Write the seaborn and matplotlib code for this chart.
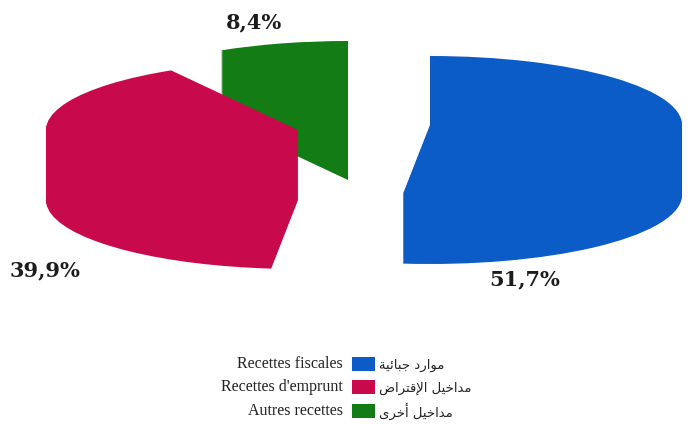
import matplotlib
matplotlib.use("Agg")
import matplotlib.pyplot as plt
from matplotlib.patches import Rectangle
import seaborn as sns

# --- data -------------------------------------------------------------
shares = [51.7, 39.9, 8.4]
share_labels = ["51,7%", "39,9%", "8,4%"]
labels_fr = ["Recettes fiscales", "Recettes d'emprunt", "Autres recettes"]
labels_ar = ["موارد جبائية", "مداخيل الإقتراض", "مداخيل أخرى"]
colors = ["#0b5cc6", "#c80a4c", "#137c14"]

sns.set_theme(style="white")
plt.rcParams["font.family"] = ["DejaVu Sans"]

# --- minimal Arabic shaping (presentation forms, right-to-left order) ---
FORMS = {
    "\u0627": ("\uFE8D", "\uFE8E", None, None),
    "\u0623": ("\uFE83", "\uFE84", None, None),
    "\u0625": ("\uFE87", "\uFE88", None, None),
    "\u0628": ("\uFE8F", "\uFE90", "\uFE91", "\uFE92"),
    "\u0629": ("\uFE93", "\uFE94", None, None),
    "\u062A": ("\uFE95", "\uFE96", "\uFE97", "\uFE98"),
    "\u062C": ("\uFE9D", "\uFE9E", "\uFE9F", "\uFEA0"),
    "\u062E": ("\uFEA5", "\uFEA6", "\uFEA7", "\uFEA8"),
    "\u062F": ("\uFEA9", "\uFEAA", None, None),
    "\u0631": ("\uFEAD", "\uFEAE", None, None),
    "\u0636": ("\uFEBD", "\uFEBE", "\uFEBF", "\uFEC0"),
    "\u0642": ("\uFED5", "\uFED6", "\uFED7", "\uFED8"),
    "\u0644": ("\uFEDD", "\uFEDE", "\uFEDF", "\uFEE0"),
    "\u0645": ("\uFEE1", "\uFEE2", "\uFEE3", "\uFEE4"),
    "\u0648": ("\uFEED", "\uFEEE", None, None),
    "\u0649": ("\uFEEF", "\uFEF0", None, None),
    "\u064A": ("\uFEF1", "\uFEF2", "\uFEF3", "\uFEF4"),
    "\u0626": ("\uFE89", "\uFE8A", "\uFE8B", "\uFE8C"),
}
LAM_ALEF = {
    "\u0627": ("\uFEFB", "\uFEFC"),
    "\u0623": ("\uFEF7", "\uFEF8"),
    "\u0625": ("\uFEF9", "\uFEFA"),
    "\u0622": ("\uFEF5", "\uFEF6"),
}


def _dual(ch):
    return ch in FORMS and FORMS[ch][2] is not None


def shape_arabic(s):
    out = []
    i, n = 0, len(s)
    while i < n:
        ch = s[i]
        if ch not in FORMS:
            out.append(ch)
            i += 1
            continue
        join_prev = i > 0 and _dual(s[i - 1])
        if ch == "\u0644" and i + 1 < n and s[i + 1] in LAM_ALEF:
            out.append(LAM_ALEF[s[i + 1]][1 if join_prev else 0])
            i += 2
            continue
        join_next = _dual(ch) and i + 1 < n and s[i + 1] in FORMS
        iso, fin, ini, med = FORMS[ch]
        if join_prev and join_next:
            out.append(med)
        elif join_prev:
            out.append(fin)
        elif join_next:
            out.append(ini)
        else:
            out.append(iso)
        i += 1
    return "".join(reversed(out))


# --- figure: one axes spanning the canvas, x in pixels, y squashed ------
W, H = 690, 424
RX, RY = 252.0, 69.0          # ellipse semi-axes of the pie top face
SQ = RY / RX                  # vertical squash factor
DEPTH = 70                    # extrusion depth of the slices

fig = plt.figure(figsize=(W / 100, H / 100), dpi=100)
ax = fig.add_axes([0, 0, 1, 1])


def to_data(px, py):
    return px, (H - py) / SQ


# top-face centre of each (pulled apart) slice
slice_centres = [(430, 125), (298, 130), (348, 110)]
draw_order = [2, 1, 0]

for i in draw_order:
    cx, cy = slice_centres[i]
    for k in range(DEPTH, -1, -1):
        wedges, _ = ax.pie(
            shares,
            colors=colors,
            startangle=90,
            counterclock=False,
            radius=RX,
            center=to_data(cx, cy + k),
            wedgeprops=dict(linewidth=0),
        )
        for j, w in enumerate(wedges):
            if j != i:
                w.remove()

ax.set_aspect("auto")
ax.set_xlim(0, W)
ax.set_ylim(0, H / SQ)
ax.set_axis_off()

# percentage labels
label_pos = [(525, 279), (45, 270), (254, 22)]
for (px, py), txt in zip(label_pos, share_labels):
    ax.text(*to_data(px, py), txt, ha="center", va="center",
            fontsize=15, fontweight="bold", family="DejaVu Serif",
            color="#1c1c1c")

# legend: French label, colour box, Arabic label
rows_y = [364, 387, 411]
for y, fr, ar, c in zip(rows_y, labels_fr, labels_ar, colors):
    fig.text(343 / W, 1 - y / H, fr, ha="right", va="center",
             fontsize=11.5, family="Liberation Serif", color="#222222")
    fig.patches.append(Rectangle((352 / W, 1 - (y + 7) / H), 23 / W, 14 / H,
                                 transform=fig.transFigure, facecolor=c,
                                 edgecolor="none"))
    fig.text(379 / W, 1 - (y + 1) / H, shape_arabic(ar), ha="left",
             va="center", fontsize=9.5, family="DejaVu Sans",
             color="#222222")

fig.savefig("out.png", dpi=100, facecolor="white")
